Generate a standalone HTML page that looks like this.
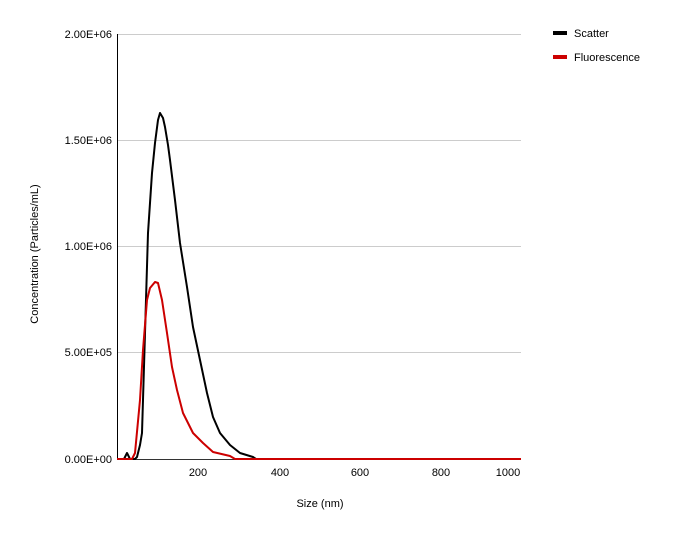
<!DOCTYPE html>
<html><head><meta charset="utf-8"><style>
html,body{margin:0;padding:0;background:#fff;}
svg{display:block;font-family:"Liberation Sans",Arial,sans-serif;}
</style></head><body>
<svg width="676" height="538" viewBox="0 0 676 538" xmlns="http://www.w3.org/2000/svg">
<rect width="676" height="538" fill="#fff"/>
<g stroke="#cccccc" stroke-width="1">
<line x1="117" y1="34.5" x2="521" y2="34.5"/>
<line x1="117" y1="140.5" x2="521" y2="140.5"/>
<line x1="117" y1="246.5" x2="521" y2="246.5"/>
<line x1="117" y1="352.5" x2="521" y2="352.5"/>
</g>
<line x1="117.5" y1="34" x2="117.5" y2="460" stroke="#000" stroke-width="1"/>
<line x1="117" y1="459.5" x2="521" y2="459.5" stroke="#333" stroke-width="1"/>
<g font-size="11" fill="#000" text-anchor="end">
<text x="112" y="38">2.00E+06</text>
<text x="112" y="144">1.50E+06</text>
<text x="112" y="250">1.00E+06</text>
<text x="112" y="356">5.00E+05</text>
<text x="112" y="463">0.00E+00</text>
</g>
<g font-size="11" fill="#000" text-anchor="middle">
<text x="198" y="476">200</text>
<text x="280" y="476">400</text>
<text x="360" y="476">600</text>
<text x="441" y="476">800</text>
<text x="508" y="476">1000</text>
</g>
<text x="320" y="507" font-size="11" text-anchor="middle">Size (nm)</text>
<text transform="translate(38,254) rotate(-90)" font-size="11" text-anchor="middle">Concentration (Particles/mL)</text>
<polyline fill="none" stroke="#000" stroke-width="2" stroke-linejoin="round" points="117,459 124,459 127,453 130,459 135,459 137,457 140,445 142,433 145,333 148,233 152,173 155,143 158,120 160,113 163,118 165,127 168,145 170,160 175,200 180,243 187,287 193,327 200,360 207,393 213,417 220,433 230,445 240,453 253,457 256,459 521,459"/>
<polyline fill="none" stroke="#cc0000" stroke-width="2" stroke-linejoin="round" points="117,459 132,459 135,453 140,400 143,350 147,300 150,288 155,282 158,283 162,300 167,333 172,367 177,390 183,413 193,433 203,443 213,452 230,456 235,459 521,459"/>
<rect x="553" y="31" width="14" height="4" fill="#000"/>
<text x="574" y="37" font-size="11">Scatter</text>
<rect x="553" y="55" width="14" height="4" fill="#cc0000"/>
<text x="574" y="61" font-size="11">Fluorescence</text>
</svg>
</body></html>
